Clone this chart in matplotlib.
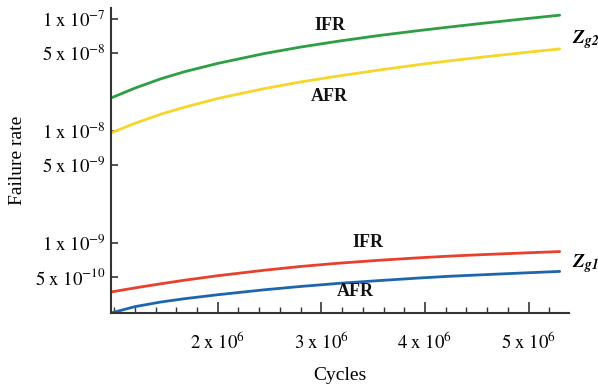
import numpy as np
import matplotlib
matplotlib.use("Agg")
import matplotlib.pyplot as plt
from matplotlib.ticker import FixedLocator, MultipleLocator

plt.rcParams["font.family"] = ["Liberation Serif", "DejaVu Serif"]
plt.rcParams["mathtext.fontset"] = "stix"

cycles = [0.97, 1.20, 1.45, 1.68, 2.00, 2.45, 2.80, 3.17, 3.55, 3.95, 4.25, 4.57, 4.95, 5.30]

# Zg2
ifr_zg2 = [1.97e-8, 2.41e-8, 2.92e-8, 3.38e-8, 4.01e-8, 4.91e-8, 5.61e-8,
           6.34e-8, 7.10e-8, 7.89e-8, 8.50e-8, 9.17e-8, 1.00e-7, 1.08e-7]
afr_zg2 = [9.6e-9, 1.17e-8, 1.41e-8, 1.63e-8, 1.95e-8, 2.39e-8, 2.74e-8,
           3.10e-8, 3.49e-8, 3.92e-8, 4.24e-8, 4.58e-8, 5.00e-8, 5.40e-8]
# Zg1
ifr_zg1 = [3.65e-10, 3.97e-10, 4.32e-10, 4.65e-10, 5.10e-10, 5.71e-10, 6.17e-10,
           6.60e-10, 7.00e-10, 7.38e-10, 7.64e-10, 7.88e-10, 8.14e-10, 8.38e-10]
afr_zg1 = [2.37e-10, 2.70e-10, 2.97e-10, 3.18e-10, 3.45e-10, 3.82e-10, 4.09e-10,
           4.36e-10, 4.61e-10, 4.87e-10, 5.05e-10, 5.21e-10, 5.40e-10, 5.57e-10]

ytick_vals = [1e-7, 5e-8, 1e-8, 5e-9, 1e-9, 5e-10]
ytick_labels = [r"$\mathrm{1\ x\ 10^{-7}}$", r"$\mathrm{5\ x\ 10^{-8}}$",
                r"$\mathrm{1\ x\ 10^{-8}}$", r"$\mathrm{5\ x\ 10^{-9}}$",
                r"$\mathrm{1\ x\ 10^{-9}}$", r"$\mathrm{5\ x\ 10^{-10}}$"]
xtick_vals = [2, 3, 4, 5]
xtick_labels = [r"$\mathrm{%d\ x\ 10^{6}}$" % v for v in xtick_vals]

fig = plt.figure(figsize=(5.98, 3.85), dpi=100)
ax = fig.add_axes([0.1856, 0.187, 0.9515 - 0.1856, 0.979 - 0.187])

x = np.array(cycles) * 1e6
ax.plot(x, ifr_zg2, color="#2e9e45", lw=2.0, solid_capstyle="round")
ax.plot(x, afr_zg2, color="#f7d52a", lw=2.0, solid_capstyle="round")
ax.plot(x, ifr_zg1, color="#e8402d", lw=2.0, solid_capstyle="round")
ax.plot(x, afr_zg1, color="#1d66ad", lw=2.0, solid_capstyle="round")

ax.set_yscale("log")
ax.set_ylim(2.37e-10, 1.25e-7)
ax.set_xlim(0.97e6, 5.39e6)

ax.yaxis.set_major_locator(FixedLocator(ytick_vals))
ax.yaxis.set_minor_locator(FixedLocator([]))
ax.set_yticklabels(ytick_labels)
ax.set_xticks([v * 1e6 for v in xtick_vals])
ax.set_xticklabels(xtick_labels)
ax.xaxis.set_minor_locator(MultipleLocator(0.2e6))

ax.tick_params(axis="y", direction="in", length=5, width=1.2, labelsize=13.5, pad=4, color="#333333")
ax.tick_params(axis="x", which="major", direction="in", length=8, width=1.2, labelsize=13.5, pad=13, color="#333333")
ax.tick_params(axis="x", which="minor", direction="in", length=4, width=1.0, color="#333333")

for s in ["top", "right"]:
    ax.spines[s].set_visible(False)
for s in ["left", "bottom"]:
    ax.spines[s].set_linewidth(1.5)
    ax.spines[s].set_color("#333333")

ax.set_xlabel("Cycles", fontsize=14, labelpad=10)
ax.set_ylabel("Failure rate", fontsize=14, labelpad=6)

tk = dict(fontsize=13, fontweight="bold", ha="center", va="center", color="#111111")
ax.text(3.08e6, 8.8e-8, "IFR", **tk)
ax.text(3.08e6, 2.05e-8, "AFR", **tk)
ax.text(3.45e6, 1.0e-9, "IFR", **tk)
ax.text(3.33e6, 3.7e-10, "AFR", **tk)

ax.text(5.42e6, 6.5e-8, r"$\mathbfit{Z}_{\mathbfit{g2}}$", fontsize=14, ha="left", va="center", clip_on=False)
ax.text(5.42e6, 6.6e-10, r"$\mathbfit{Z}_{\mathbfit{g1}}$", fontsize=14, ha="left", va="center", clip_on=False)

fig.savefig("out.png", dpi=100)
